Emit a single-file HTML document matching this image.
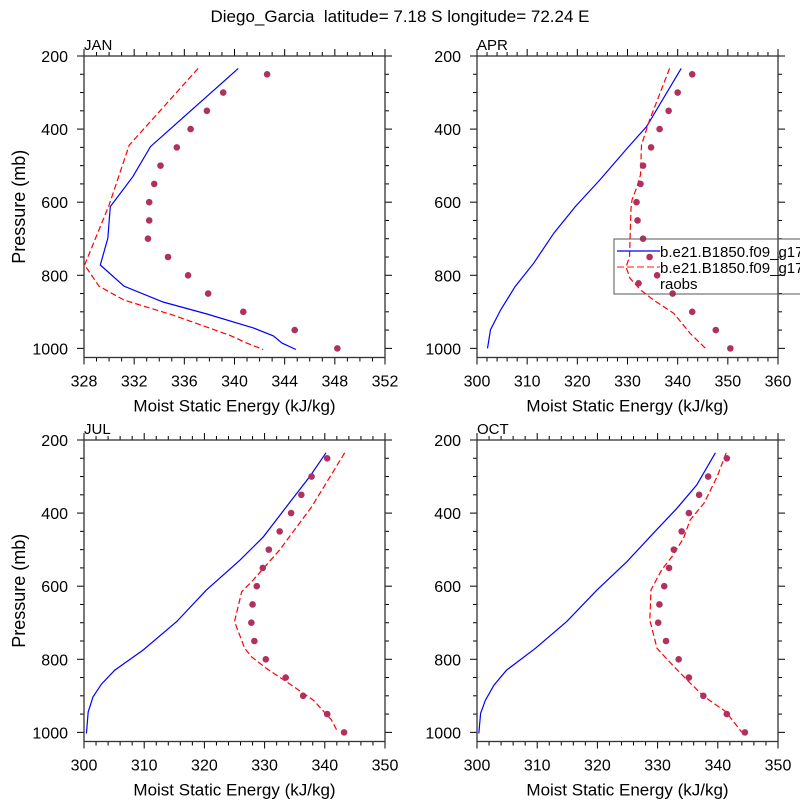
<!DOCTYPE html>
<html><head><meta charset="utf-8"><style>
html,body{margin:0;padding:0;background:#fff;}
svg{display:block;font-family:"Liberation Sans",sans-serif;}
</style></head><body>
<svg id="fig" width="800" height="800" viewBox="0 0 800 800">
<text x="400" y="22" text-anchor="middle" font-size="17">Diego_Garcia&#160; latitude= 7.18 S longitude= 72.24 E</text>
</svg>
<script>
// ---- JAN ----
const janModelP=[234,448,530,612,699,772,830,873,906,944,966,986,1003];
const janModelV=[340.3,333.3,331.9,330.1,329.9,329.3,331.2,334.3,337.8,341.5,343.1,343.8,344.9];
const janCtrlP=[234,444,608,772,830,868,909,964,986,1003];
const janCtrlV=[337.1,331.6,330.0,328.05,329.2,331.2,335.1,339.6,341.0,342.3];
const janObsP=[250,300,350,400,450,500,550,600,650,700,750,800,850,900,950,1000];
const janObsV=[342.6,339.1,337.8,336.5,335.4,334.1,333.6,333.2,333.2,333.1,334.7,336.3,337.9,340.7,344.8,348.2];
// ---- APR ----
const aprModelP=[234,393,453,539,612,685,767,831,895,949,1000];
const aprModelV=[340.7,333.8,329.9,324.5,319.6,315.3,311.3,307.6,304.7,302.7,302.1];
const aprCtrlP=[234,375,443,525,558,594,617,750,777,808,840,868,904,959,982,1003];
const aprCtrlV=[338.4,334.4,332.8,332.6,331.9,330.9,330.7,330.4,329.7,330.5,332.6,335.2,339.2,342.5,344.2,345.8];
const aprObsP=[250,300,350,400,450,500,550,600,650,700,750,800,822,850,900,950,1000];
const aprObsV=[342.9,340.0,338.2,336.4,334.7,333.1,332.6,331.8,332.0,333.1,334.4,335.9,332.2,339.0,342.9,347.6,350.5];
// ---- JUL ----
const julModelP=[235,300,383,465,529,611,697,775,830,868,903,944,1003];
const julModelV=[340.2,337.5,333.6,329.8,325.9,320.3,315.4,309.8,305.1,302.9,301.5,300.7,300.4];
const julCtrlP=[235,383,501,583,615,697,770,793,825,861,912,966,1000];
const julCtrlV=[343.3,337.8,332.5,328.1,326.2,325.0,326.7,327.8,330.3,333.6,338.1,341.1,342.2];
const julObsP=[250,300,350,400,450,500,550,600,650,700,750,800,850,900,950,1000];
const julObsV=[340.4,337.8,336.1,334.4,332.5,330.7,329.7,328.7,328.0,327.8,328.3,330.2,333.5,336.4,340.4,343.2];
// ---- OCT ----
const octModelP=[235,323,387,455,533,611,697,770,830,871,912,948,1003];
const octModelV=[339.6,336.5,333.2,329.3,324.9,319.9,314.9,309.7,304.9,302.8,301.4,300.6,300.3];
const octCtrlP=[235,300,373,419,469,519,555,610,692,770,820,865,902,943,1000];
const octCtrlV=[341.4,339.9,337.7,335.4,334.3,332.4,330.7,328.9,328.7,329.9,332.7,335.4,337.7,341.3,344.0];
const octObsP=[250,300,350,400,450,500,550,600,650,700,750,800,850,900,950,1000];
const octObsV=[341.5,338.4,336.9,335.2,334.0,332.7,331.9,331.1,330.3,330.1,331.4,333.5,335.2,337.6,341.5,344.5];
// axis tick settings
const janXTicks=[328,332,336,340,344,348,352];
const aprXTicks=[300,310,320,330,340,350,360];
const julXTicks=[300,310,320,330,340,350];
const octXTicks=[300,310,320,330,340,350];
const yTicks=[200,400,600,800,1000];

const NS='http://www.w3.org/2000/svg';
const svg=document.getElementById('fig');
function mk(tag,attrs,parent){const e=document.createElementNS(NS,tag);for(const k in attrs)e.setAttribute(k,attrs[k]);(parent||svg).appendChild(e);return e;}

function panel(key,label,x0,y0,xmin,xmax,xTicks,minorStep,mP,mV,cP,cV,oP,oV){
  const W=301,H=301.5;
  const sx=v=>x0+(v-xmin)/(xmax-xmin)*W;
  const sy=p=>y0+(p-200)/825*H;
  const g=mk('g',{});
  
  
  const clipId='clip-'+key;
  const cp=mk('clipPath',{id:clipId},g);mk('rect',{x:x0,y:y0,width:W,height:H},cp);
  for(let v=xmin;v<=xmax+1e-6;v+=minorStep){
    const isMaj=xTicks.some(t=>Math.abs(t-v)<1e-6);
    const L=isMaj?7:4;const x=sx(v);
    mk('line',{x1:x,x2:x,y1:y0,y2:y0-L,stroke:'#000','stroke-width':1},g);
    mk('line',{x1:x,x2:x,y1:y0+H,y2:y0+H+L,stroke:'#000','stroke-width':1},g);
  }
  for(let p=200;p<=1000;p+=50){
    const isMaj=p%200===0;const L=isMaj?7:4;const y=sy(p);
    mk('line',{x1:x0,x2:x0-L,y1:y,y2:y,stroke:'#000','stroke-width':1},g);
    mk('line',{x1:x0+W,x2:x0+W+L,y1:y,y2:y,stroke:'#000','stroke-width':1},g);
  }
  xTicks.forEach(v=>{const t=mk('text',{x:sx(v),y:y0+H+29,'text-anchor':'middle','font-size':16},g);t.textContent=v;
    
    });
  yTicks.forEach(p=>{const t=mk('text',{x:x0-16,y:sy(p)+6,'text-anchor':'end','font-size':16},g);t.textContent=p;
    
    });
  mk('rect',{x:x0,y:y0,width:W,height:H,fill:'none',stroke:'#333','stroke-width':1.3},g);
  const lb=mk('text',{x:x0,y:y0-6,'font-size':15},g);lb.textContent=label;
  
  
  const xt=mk('text',{x:x0+W/2,y:y0+H+54,'text-anchor':'middle','font-size':17},g);xt.textContent='Moist Static Energy (kJ/kg)';
  
  
  if(x0<200){const yt=mk('text',{x:0,y:0,'text-anchor':'middle','font-size':18,transform:`translate(25,${y0+H/2}) rotate(-90)`},g);yt.textContent='Pressure (mb)';
    
    }
  const cg=mk('g',{'clip-path':`url(#${clipId})`},g);
  const pts=(P,V)=>P.map((p,i)=>sx(V[i]).toFixed(1)+','+sy(p).toFixed(1)).join(' ');
  const l1=mk('polyline',{points:pts(mP,mV),fill:'none',stroke:'#0000ff','stroke-width':1.2},cg);
  
  
  const l2=mk('polyline',{points:pts(cP,cV),fill:'none',stroke:'#ff0000','stroke-width':1.2,'stroke-dasharray':'6,3'},cg);
  
  
  oP.forEach((p,i)=>{const c=mk('circle',{cx:sx(oV[i]),cy:sy(p),r:3.3,fill:'#b03060'},cg);
    
    });
}
panel('jan','JAN',84,56,328,352,janXTicks,1,janModelP,janModelV,janCtrlP,janCtrlV,janObsP,janObsV);
panel('apr','APR',477,56,300,360,aprXTicks,2,aprModelP,aprModelV,aprCtrlP,aprCtrlV,aprObsP,aprObsV);
panel('jul','JUL',84,440,300,350,julXTicks,2,julModelP,julModelV,julCtrlP,julCtrlV,julObsP,julObsV);
panel('oct','OCT',477,440,300,350,octXTicks,2,octModelP,octModelV,octCtrlP,octCtrlV,octObsP,octObsV);

const lg=mk('g',{});


mk('rect',{x:614,y:239,width:200,height:55,fill:'none',stroke:'#555','stroke-width':1},lg);
mk('line',{x1:617,x2:660,y1:251,y2:251,stroke:'#0000ff','stroke-width':1.2},lg);
mk('line',{x1:617,x2:660,y1:267,y2:267,stroke:'#ff4444','stroke-width':1.2,'stroke-dasharray':'7,3'},lg);
const e1=mk('text',{x:660,y:257,'font-size':15},lg);e1.textContent='b.e21.B1850.f09_g17';


const e2=mk('text',{x:660,y:273,'font-size':15},lg);e2.textContent='b.e21.B1850.f09_g17';


const e3=mk('text',{x:660,y:289,'font-size':15},lg);e3.textContent='raobs';


</script>
</body></html>
